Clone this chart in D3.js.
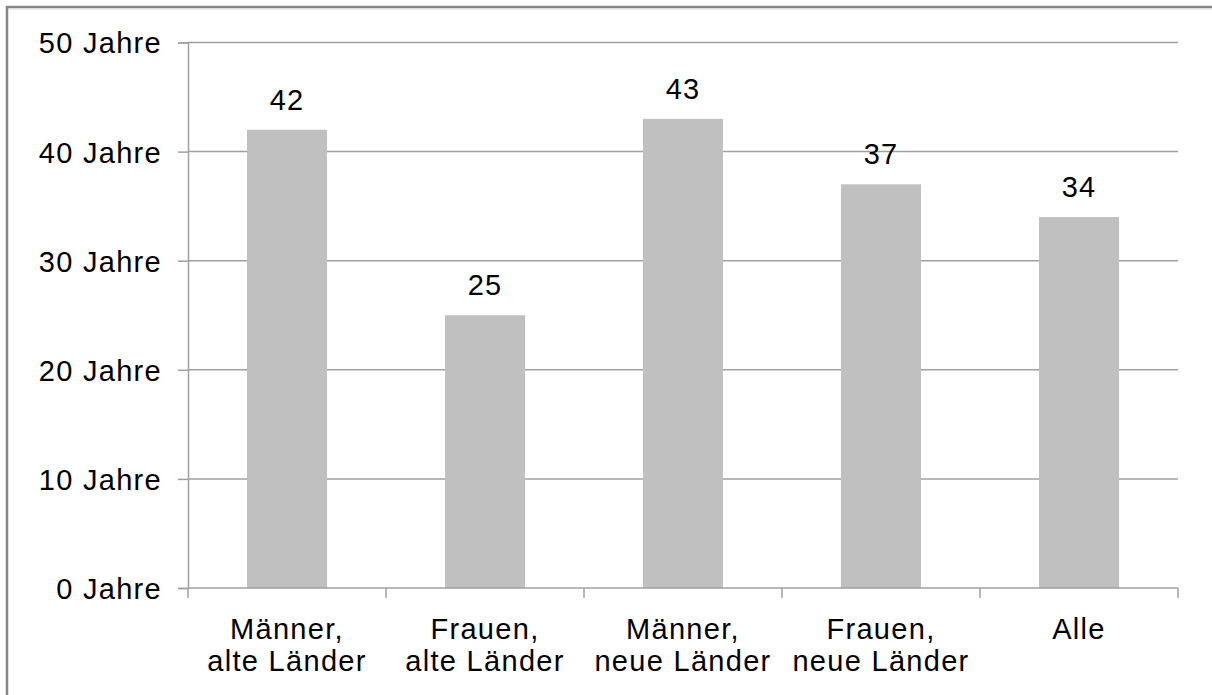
<!DOCTYPE html>
<html>
<head>
<meta charset="utf-8">
<script src="https://cdn.jsdelivr.net/npm/d3@7"></script>
<style>
  html, body { margin: 0; padding: 0; background: #fff; }
  svg { display: block; }
  text { font-family: "Liberation Sans", Arial, sans-serif; fill: #000; }
</style>
</head>
<body>
<svg id="chart" width="1212" height="695"></svg>
<script>
const categories = [
  ["Männer,", "alte Länder"],
  ["Frauen,", "alte Länder"],
  ["Männer,", "neue Länder"],
  ["Frauen,", "neue Länder"],
  ["Alle"]
];
const values = [42, 25, 43, 37, 34];
const yTicks = [0, 10, 20, 30, 40, 50];
const yTickLabels = ["0 Jahre", "10 Jahre", "20 Jahre", "30 Jahre", "40 Jahre", "50 Jahre"];

(function () {
const svg = d3.select("#chart");
const mLeft = 188, mRight = 1178, mTop = 42.5, mBottom = 588;
const fs = 29;

const x = d3.scaleBand().domain(d3.range(categories.length)).range([mLeft, mRight])
  .paddingInner(0.596).paddingOuter(0.298);
const y = d3.scaleLinear().domain([0, 50]).range([mBottom, mTop]);

// frame (left and top edges)
svg.append("line").attr("x1", 6).attr("x2", 1212).attr("y1", 7).attr("y2", 7)
  .attr("stroke", "#878787").attr("stroke-width", 2.5);
svg.append("line").attr("x1", 6).attr("x2", 1212).attr("y1", 9).attr("y2", 9)
  .attr("stroke", "#d8d8d8").attr("stroke-width", 1);
svg.append("line").attr("x1", 7).attr("x2", 7).attr("y1", 6).attr("y2", 695)
  .attr("stroke", "#878787").attr("stroke-width", 2.5);

// gridlines
svg.append("g").selectAll("line").data(yTicks.filter(d => d > 0)).join("line")
  .attr("x1", mLeft).attr("x2", mRight)
  .attr("y1", d => y(d)).attr("y2", d => y(d))
  .attr("stroke", "#a0a0a0").attr("stroke-width", 1.5);

// y axis
const yAxis = d3.axisLeft(y).tickValues(yTicks).tickSize(10).tickPadding(16)
  .tickFormat((d, i) => yTickLabels[i]);
const gy = svg.append("g").attr("transform", `translate(${mLeft},0)`).call(yAxis);
gy.select(".domain").attr("stroke", "#a0a0a0").attr("stroke-width", 1.5);
gy.selectAll(".tick line").attr("stroke", "#a0a0a0").attr("stroke-width", 1.5);
gy.selectAll(".tick text").attr("font-size", fs).attr("letter-spacing", "1.3px")
  .attr("font-family", "'Liberation Sans', Arial, sans-serif").attr("fill", "#000")
  .attr("dy", "0.36em");

// bars
svg.append("g").selectAll("rect").data(values).join("rect")
  .attr("x", (d, i) => x(i)).attr("width", x.bandwidth())
  .attr("y", d => y(d)).attr("height", d => y(0) - y(d))
  .attr("fill", "#c0c0c0");

// value labels
svg.append("g").selectAll("text").data(values).join("text")
  .attr("x", (d, i) => x(i) + x.bandwidth() / 2)
  .attr("y", d => y(d) - 20)
  .attr("text-anchor", "middle").attr("font-size", fs).attr("letter-spacing", "1px")
  .text(d => d);

// x axis line and ticks at category boundaries
svg.append("line").attr("x1", mLeft).attr("x2", mRight).attr("y1", mBottom).attr("y2", mBottom)
  .attr("stroke", "#a0a0a0").attr("stroke-width", 1.5);
const bounds = d3.range(categories.length + 1).map(i => mLeft + i * x.step());
svg.append("g").selectAll("line").data(bounds).join("line")
  .attr("x1", d => d).attr("x2", d => d).attr("y1", mBottom).attr("y2", mBottom + 10)
  .attr("stroke", "#a0a0a0").attr("stroke-width", 1.5);

// category labels
const cl = svg.append("g").selectAll("text").data(categories).join("text")
  .attr("x", (d, i) => x(i) + x.bandwidth() / 2)
  .attr("y", 639)
  .attr("text-anchor", "middle").attr("font-size", fs).attr("letter-spacing", "1.3px");
cl.selectAll("tspan").data(d => d).join("tspan")
  .attr("x", function() { return d3.select(this.parentNode).attr("x"); })
  .attr("dy", (d, i) => i === 0 ? 0 : 32)
  .text(d => d);
})();
</script>
</body>
</html>
